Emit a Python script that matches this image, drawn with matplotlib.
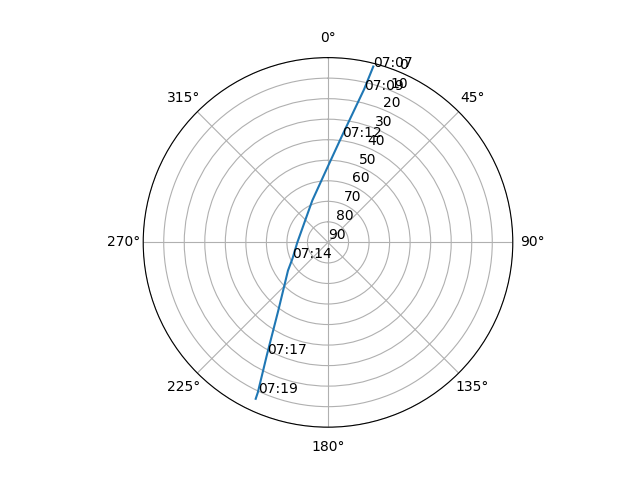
import numpy as np
import matplotlib
matplotlib.use('Agg')
import matplotlib.pyplot as plt

# pass track: azimuth (deg), elevation (deg)
azimuth = [14.44, 13.25, 7.37, -1.59, -20.54, -90.19, -114.39, -125.09, -143.88, -151.45, -154.94, -155.19]
elevation = [1.56, 13.50, 38.0, 54.97, 68.21, 75.05, 71.02, 66.19, 48.94, 27.85, 9.30, 6.09]
time_labels = ['07:07', '07:09', '07:12', '', '', '', '07:14', '', '', '07:17', '07:19', '']

fig = plt.figure(figsize=(6.4, 4.8), dpi=100)
ax = fig.add_subplot(111, projection='polar')
ax.set_theta_zero_location('N')
ax.set_theta_direction(-1)

theta = np.radians(azimuth)
ax.plot(theta, elevation)

for t, r, lab in zip(theta, elevation, time_labels):
    if lab:
        ax.text(t, r, lab)

ax.set_ylim(90, 0)
ax.set_yticks(np.arange(0, 91, 10))

plt.savefig('out.png', dpi=100)
